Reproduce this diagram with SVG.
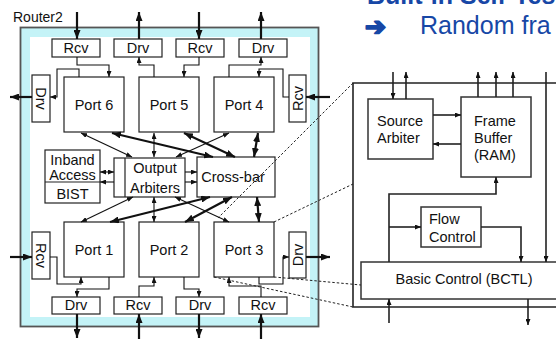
<svg xmlns="http://www.w3.org/2000/svg" width="556" height="339" viewBox="0 0 556 339">
  <style>
    text { font-family: "Liberation Sans", Arial, sans-serif; font-size: 14.5px; fill: #111; }
    .c { text-anchor: middle; }
    .box { fill: #fff; stroke: #222; stroke-width: 1.2; }
    .pbox { fill: #fff; stroke: #333; stroke-width: 1.5; }
    .w { fill: none; stroke: #111; stroke-width: 1.1; }
    .io { fill: none; stroke: #111; stroke-width: 2.2; }
    .bus { fill: none; stroke: #111; stroke-width: 2.2; }
    .pw { fill: none; stroke: #222; stroke-width: 1.6; }
    .dash { fill: none; stroke: #222; stroke-width: 1; stroke-dasharray: 2.5 2; }
    .head { font-size: 25px; fill: #1747a6; }
    .end { marker-end: url(#ah); }
    .both { marker-start: url(#ah); marker-end: url(#ah); }
    .endL { marker-end: url(#ahL); }
    .bothL { marker-start: url(#ahL); marker-end: url(#ahL); }
  </style>
  <defs>
    <marker id="ah" viewBox="0 0 10 10" refX="10" refY="5" markerWidth="6" markerHeight="5" markerUnits="userSpaceOnUse" orient="auto-start-reverse" preserveAspectRatio="none">
      <path d="M0,0 L10,5 L0,10 z" fill="#111"/>
    </marker>
    <marker id="ahL" viewBox="0 0 10 10" refX="10" refY="5" markerWidth="9" markerHeight="7" markerUnits="userSpaceOnUse" orient="auto-start-reverse" preserveAspectRatio="none">
      <path d="M0,0 L10,5 L0,10 z" fill="#111"/>
    </marker>
  </defs>

  <!-- slide heading (runs past the page edge) -->
  <text class="head" x="367" y="4" font-weight="bold">Built-in Self-Test</text>
  <text class="head" x="365" y="35" font-weight="bold" stroke="#1747a6" stroke-width="2" stroke-linejoin="round" style="font-family: 'DejaVu Sans', sans-serif; font-size: 25px;">➔</text>
  <text class="head" x="420" y="34">Random fra</text>

  <!-- router frame -->
  <text x="13" y="22" style="font-size: 14px;">Router2</text>
  <rect x="20.5" y="27.5" width="298" height="299" fill="#c4f3f7" stroke="#555" stroke-width="1.8"/>
  <rect x="30" y="37" width="280" height="280" fill="#fff"/>

  <!-- I/O buffers, top row -->
  <g id="rcv-t1"><rect class="box" x="52" y="39" width="48" height="18"/><text class="c" x="76" y="53">Rcv</text></g>
  <g id="drv-t2"><rect class="box" x="114" y="39" width="48" height="18"/><text class="c" x="138" y="53">Drv</text></g>
  <g id="rcv-t3"><rect class="box" x="176" y="39" width="48" height="18"/><text class="c" x="200" y="53">Rcv</text></g>
  <g id="drv-t4"><rect class="box" x="239" y="39" width="48" height="18"/><text class="c" x="263" y="53">Drv</text></g>

  <!-- I/O buffers, bottom row -->
  <g id="drv-b1"><rect class="box" x="52" y="297" width="48" height="17"/><text class="c" x="76" y="310">Drv</text></g>
  <g id="rcv-b2"><rect class="box" x="114" y="297" width="48" height="17"/><text class="c" x="138" y="310">Rcv</text></g>
  <g id="drv-b3"><rect class="box" x="176" y="297" width="48" height="17"/><text class="c" x="200" y="310">Drv</text></g>
  <g id="rcv-b4"><rect class="box" x="239" y="297" width="48" height="17"/><text class="c" x="263" y="310">Rcv</text></g>

  <!-- I/O buffers, sides -->
  <g id="drv-l1"><rect class="box" x="32" y="75" width="18" height="47"/><text class="c" transform="translate(41,98.5) rotate(90)" y="5">Drv</text></g>
  <g id="rcv-r1"><rect class="box" x="289" y="75" width="17" height="47"/><text class="c" transform="translate(297.5,98.5) rotate(-90)" y="5">Rcv</text></g>
  <g id="rcv-l2"><rect class="box" x="32" y="232" width="18" height="47"/><text class="c" transform="translate(41,255.5) rotate(90)" y="5">Rcv</text></g>
  <g id="drv-r2"><rect class="box" x="289" y="232" width="17" height="46"/><text class="c" transform="translate(297.5,255) rotate(-90)" y="5">Drv</text></g>

  <!-- ports -->
  <g id="port6"><rect class="box" x="64" y="77" width="60" height="55"/><text class="c" x="94" y="110">Port 6</text></g>
  <g id="port5"><rect class="box" x="139" y="77" width="60" height="55"/><text class="c" x="169" y="110">Port 5</text></g>
  <g id="port4"><rect class="box" x="214" y="77" width="60" height="55"/><text class="c" x="244" y="110">Port 4</text></g>
  <g id="port1"><rect class="box" x="64" y="222" width="60" height="55"/><text class="c" x="94" y="255">Port 1</text></g>
  <g id="port2"><rect class="box" x="139" y="222" width="60" height="55"/><text class="c" x="169" y="255">Port 2</text></g>
  <g id="port3"><rect class="box" x="214" y="222" width="60" height="55"/><text class="c" x="244" y="255">Port 3</text></g>

  <!-- central blocks -->
  <g id="inband">
    <rect class="box" x="45" y="150" width="55" height="53"/>
    <line x1="45" y1="182" x2="100" y2="182" stroke="#222" stroke-width="1.2"/>
    <text class="c" x="72.5" y="165">Inband</text>
    <text class="c" x="72.5" y="180">Access</text>
    <text class="c" x="72.5" y="199">BIST</text>
  </g>
  <g id="arbiters">
    <rect class="box" x="114" y="158" width="71" height="39"/>
    <line x1="125" y1="158" x2="125" y2="197" stroke="#222" stroke-width="1.2"/>
    <text class="c" x="155" y="173">Output</text>
    <text class="c" x="155" y="193">Arbiters</text>
  </g>
  <g id="crossbar">
    <rect class="box" x="197" y="157" width="78" height="40"/>
    <text class="c" x="233" y="182">Cross-bar</text>
  </g>

  <!-- detail panel -->
  <g id="panel">
    <path class="pw" d="M556,83 H353 V307 H556"/>
  </g>
  <g id="source-arbiter">
    <rect class="pbox" x="368" y="99" width="65" height="60"/>
    <text x="377" y="126">Source</text>
    <text x="377" y="143">Arbiter</text>
  </g>
  <g id="frame-buffer">
    <rect class="pbox" x="461" y="97" width="70" height="80"/>
    <text x="474" y="126">Frame</text>
    <text x="474" y="143">Buffer</text>
    <text x="474" y="160">(RAM)</text>
  </g>
  <g id="flow-control">
    <rect class="pbox" x="421" y="207" width="60" height="40"/>
    <text x="429" y="224">Flow</text>
    <text x="429" y="242">Control</text>
  </g>
  <g id="bctl">
    <rect class="pbox" x="361" y="262" width="210" height="37"/>
    <text class="c" x="464" y="284">Basic Control (BCTL)</text>
  </g>

  <g id="connectors">
    <!-- external pins -->
    <path class="io endL" d="M77,12 V39"/>
    <path class="io endL" d="M139,39 V12"/>
    <path class="io endL" d="M199,12 V39"/>
    <path class="io endL" d="M261,39 V12"/>
    <path class="io endL" d="M77,314 V338"/>
    <path class="io endL" d="M139,339 V314"/>
    <path class="io endL" d="M199,314 V338"/>
    <path class="io endL" d="M261,339 V314"/>
    <path class="io endL" d="M32,97 H10"/>
    <path class="io endL" d="M330,97 H306"/>
    <path class="io endL" d="M10,257 H32"/>
    <path class="io endL" d="M306,257 H330"/>

    <!-- buffer to port wiring -->
    <path class="w end" d="M77,57 V65 H109 V77"/>
    <path class="w end" d="M154,77 V65 H139 V57"/>
    <path class="w end" d="M199,57 V65 H184 V77"/>
    <path class="w end" d="M229,77 V65 H261 V57"/>
    <path class="w end" d="M79,77 V69 H57 V97 H50"/>
    <path class="w end" d="M289,97 H283 V69 H259 V77"/>
    <path class="w end" d="M50,257 H57 V284 H81 V277"/>
    <path class="w end" d="M109,277 V289 H77 V297"/>
    <path class="w end" d="M139,297 V286 H154 V277"/>
    <path class="w end" d="M184,277 V289 H199 V297"/>
    <path class="w end" d="M261,297 V286 H229 V277"/>
    <path class="w end" d="M259,277 V284 H283 V257 H289"/>

    <!-- ports to arbiters (thin) and cross-bar (thick) -->
    <path class="w both" d="M81,133 L132,157"/>
    <path class="w both" d="M154,133 V157"/>
    <path class="w both" d="M229,133 L176,157"/>
    <path class="bus bothL" d="M112,133 L213,157"/>
    <path class="bus bothL" d="M184,133 L235,157"/>
    <path class="bus bothL" d="M258,133 L254,157"/>
    <path class="w both" d="M133,197 L81,222"/>
    <path class="w both" d="M154,197 V222"/>
    <path class="w both" d="M175,197 L229,222"/>
    <path class="bus bothL" d="M210,197 L110,222"/>
    <path class="bus bothL" d="M232,197 L185,222"/>
    <path class="bus bothL" d="M257,197 L259,222"/>

    <!-- inband / arbiters / cross-bar -->
    <path class="w both" d="M100,172 H114"/>
    <path class="w end" d="M114,182 H100"/>
    <path class="w end" d="M185,172 H197"/>
    <path class="w end" d="M185,182 H197"/>

    <!-- zoom guides -->
    <path class="dash" d="M353,83 L218,218"/>
    <path class="dash" d="M274,222 L353,184"/>
    <path class="dash" d="M214,277 L353,307"/>
    <path class="dash" d="M274,277 L361,285"/>

    <!-- detail panel wiring -->
    <path class="pw end" d="M393,72 V99"/>
    <path class="pw end" d="M406,99 V72"/>
    <path class="pw end" d="M478,97 V72"/>
    <path class="pw end" d="M496,97 V72"/>
    <path class="pw end" d="M513,97 V72"/>
    <path class="pw end" d="M433,115 H461"/>
    <path class="pw end" d="M461,144 H433"/>
    <path class="pw end" d="M546,72 V262"/>
    <path class="pw end" d="M389,262 V194 H496 V177"/>
    <path class="pw end" d="M389,227 H421"/>
    <path class="pw end" d="M481,227 H521 V262"/>
    <path class="pw end" d="M389,323 V299"/>
    <path class="pw end" d="M528,299 V325"/>
  </g>
</svg>
